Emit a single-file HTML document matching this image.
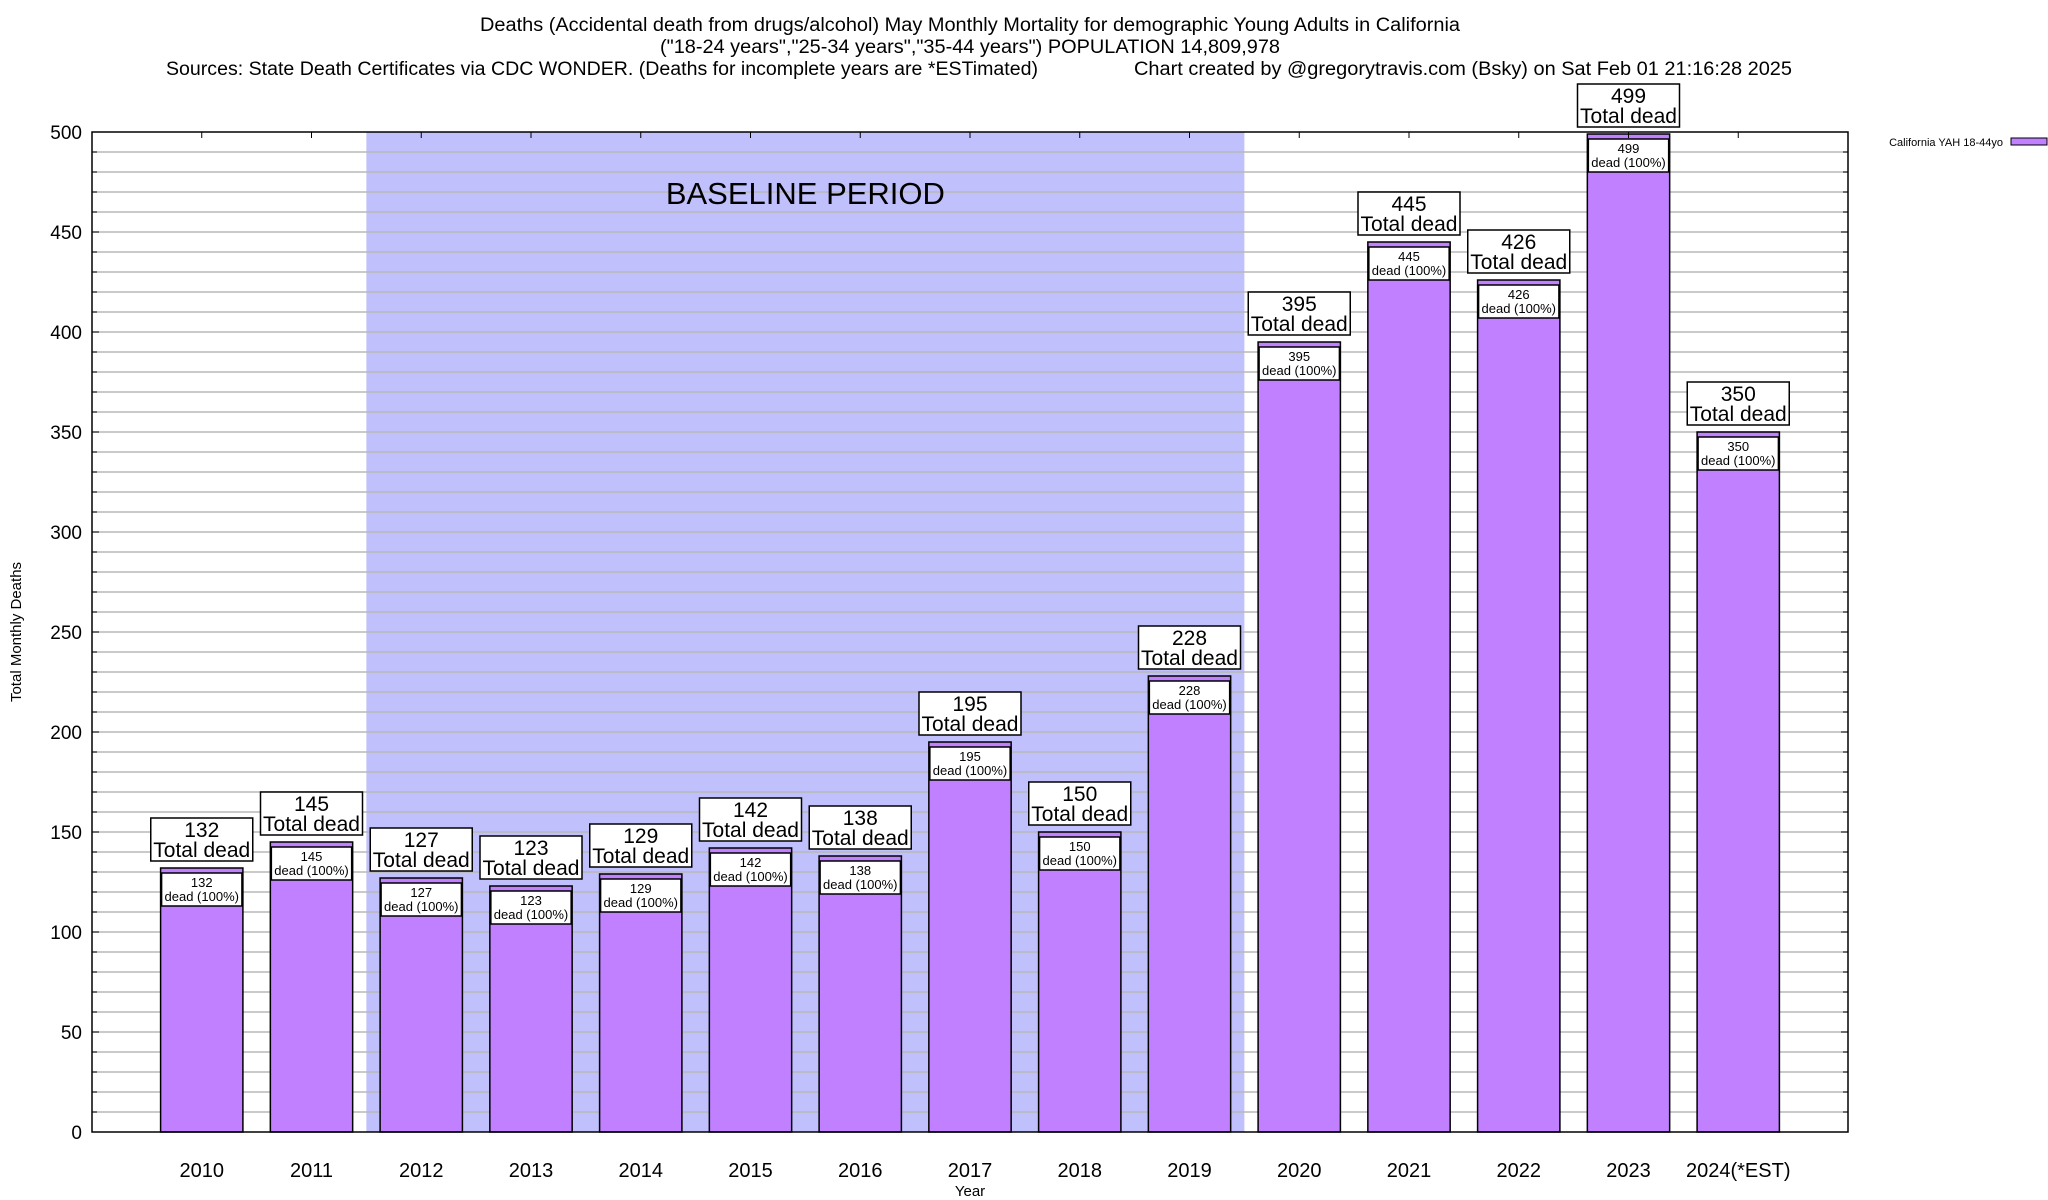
<!DOCTYPE html>
<html><head><meta charset="utf-8">
<style>
html,body{margin:0;padding:0;background:#fff;}
svg{display:block;font-family:"Liberation Sans",Arial,sans-serif;}
</style></head>
<body>
<svg id="chart" width="2048" height="1200" viewBox="0 0 2048 1200" xmlns="http://www.w3.org/2000/svg">
<g>
<text x="970" y="31" font-size="19" text-anchor="middle" textLength="980" lengthAdjust="spacingAndGlyphs">Deaths (Accidental death from drugs/alcohol) May Monthly Mortality for demographic Young Adults in California</text>
<text x="970" y="53" font-size="19" text-anchor="middle" textLength="620" lengthAdjust="spacingAndGlyphs">("18-24 years","25-34 years","35-44 years") POPULATION 14,809,978</text>
<text x="166" y="75" font-size="19" textLength="872" lengthAdjust="spacingAndGlyphs">Sources: State Death Certificates via CDC WONDER. (Deaths for incomplete years are *ESTimated)</text>
<text x="1134" y="75" font-size="19" textLength="658" lengthAdjust="spacingAndGlyphs">Chart created by @gregorytravis.com (Bsky) on Sat Feb 01 21:16:28 2025</text>
</g>
<g id="plot"></g>
</svg>
<script>
const categories = ["2010","2011","2012","2013","2014","2015","2016","2017","2018","2019","2020","2021","2022","2023","2024(*EST)"];
const deaths = [132,145,127,123,129,142,138,195,150,228,395,445,426,499,350];
const yTicks = [0,50,100,150,200,250,300,350,400,450,500];
const baselineStart = "2012";
const baselineEnd = "2019";

const L=92,R=1848,T=132,B=1132,YMAX=500,NSLOT=16;
const slot=(R-L)/NSLOT;
const xs=i=>L+(i+1)*slot;
const ys=v=>B-(v/YMAX)*(B-T);
const NS="http://www.w3.org/2000/svg";
const g=document.getElementById('plot');
function mk(tag,attrs,parent){const e=document.createElementNS(NS,tag);for(const k in attrs)e.setAttribute(k,attrs[k]);(parent||g).appendChild(e);return e;}

// baseline band
const bi=categories.indexOf(baselineStart), be=categories.indexOf(baselineEnd);
const band=mk('rect',{x:xs(bi)-slot/2,y:T,width:(be-bi+1)*slot,height:B-T,fill:'#c0c0fc'});



// gridlines every 10
for(let v=10;v<YMAX;v+=10){
  const gl=mk('line',{x1:L,x2:R,y1:ys(v),y2:ys(v),stroke:'#b8b8b8','stroke-width':1.5});
  
  
  const w=(v%50===0)?7:5;
  mk('line',{x1:L,x2:L+w,y1:ys(v),y2:ys(v),stroke:'#000','stroke-width':1});
  mk('line',{x1:R,x2:R-w,y1:ys(v),y2:ys(v),stroke:'#000','stroke-width':1});
}
const bt=mk('text',{x:(xs(bi)-slot/2+xs(be)+slot/2)/2,y:204,'font-size':31,'text-anchor':'middle'});
bt.textContent='BASELINE PERIOD';


// y tick labels
yTicks.forEach(v=>{
  const t=mk('text',{x:82,y:ys(v)+7,'font-size':19,'text-anchor':'end'});
  t.textContent=v;
  
  
});
// bars
categories.forEach((c,i)=>{
  const v=deaths[i], cx=xs(i), bw=slot*0.75, x0=cx-bw/2, y0=ys(v);
  const bar=mk('rect',{x:x0,y:y0,width:bw,height:B-y0,fill:'#c080ff',stroke:'#000','stroke-width':1.5});
  
  
  const ib=mk('rect',{x:x0+1,y:y0+5,width:bw-2,height:33,fill:'#fff',stroke:'#000','stroke-width':1.5});
  
  
  const t1=mk('text',{x:cx,y:y0+19,'font-size':13,'text-anchor':'middle'});t1.textContent=v;
  const t2=mk('text',{x:cx,y:y0+33,'font-size':13,'text-anchor':'middle'});t2.textContent='dead (100%)';
  
  
  const ob=mk('rect',{x:cx-51,y:y0-50,width:102,height:43,fill:'#fff',stroke:'#000','stroke-width':1.5});
  
  
  const t3=mk('text',{x:cx,y:y0-31,'font-size':21,'text-anchor':'middle'});t3.textContent=v;
  const t4=mk('text',{x:cx,y:y0-11,'font-size':21,'text-anchor':'middle'});t4.textContent='Total dead';
  
  
  mk('line',{x1:cx,x2:cx,y1:T,y2:T+6,stroke:'#000','stroke-width':1});
  const xl=mk('text',{x:cx,y:1177,'font-size':20,'text-anchor':'middle'});xl.textContent=c;
  
  
});
// frame
const fr=mk('rect',{x:L,y:T,width:R-L,height:B-T,fill:'none',stroke:'#000','stroke-width':1.5});


// axis titles
const xt=mk('text',{x:970,y:1196,'font-size':15,'text-anchor':'middle'});xt.textContent='Year';


const yt=mk('text',{x:0,y:0,'font-size':15,'text-anchor':'middle',transform:'translate(21,632) rotate(-90)'});yt.textContent='Total Monthly Deaths';


// legend
const lg=mk('text',{x:2003,y:146,'font-size':11,'text-anchor':'end'});lg.textContent='California YAH 18-44yo';


const sw=mk('rect',{x:2011,y:138,width:36,height:7,fill:'#c080ff',stroke:'#000','stroke-width':1});


</script>
</body></html>
